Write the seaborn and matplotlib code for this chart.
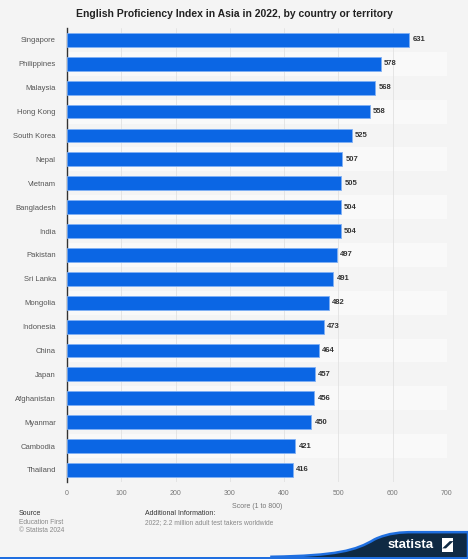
import matplotlib
matplotlib.use("Agg")
import matplotlib.pyplot as plt
import seaborn as sns
import pandas as pd
from matplotlib.patches import PathPatch, Rectangle, Polygon
from matplotlib.path import Path

# data
countries = ["Singapore", "Philippines", "Malaysia", "Hong Kong", "South Korea",
             "Nepal", "Vietnam", "Bangladesh", "India", "Pakistan", "Sri Lanka",
             "Mongolia", "Indonesia", "China", "Japan", "Afghanistan", "Myanmar",
             "Cambodia", "Thailand"]
scores = [631, 578, 568, 558, 525, 507, 505, 504, 504, 497, 491, 482, 473,
          464, 457, 456, 450, 421, 416]
x_ticks = [0, 100, 200, 300, 400, 500, 600, 700]

df = pd.DataFrame({"country": countries, "score": scores})

sns.set_theme(style="white")
plt.rcParams["font.family"] = ["Liberation Sans", "DejaVu Sans"]

bg = "#f4f4f4"
fig = plt.figure(figsize=(4.68, 5.59), dpi=100, facecolor=bg)
ax = fig.add_axes([0.143, 0.138, 0.812, 0.812])
ax.set_facecolor(bg)

# alternating row bands
for i in range(len(countries)):
    if i % 2 == 1:
        ax.axhspan(i - 0.5, i + 0.5, color="#f9f9f9", zorder=0, lw=0)

sns.barplot(data=df, x="score", y="country", ax=ax, color="#0b66e4",
            width=0.58, edgecolor="#7fb0f5", linewidth=0.6, saturation=1, zorder=3)

for i, v in enumerate(scores):
    ax.text(v + 6, i, str(v), va="center", ha="left", fontsize=5.5,
            fontweight="bold", color="#333333")

ax.set_xlim(0, 700)
ax.set_ylim(len(countries) - 0.5, -0.5)
ax.set_xticks(x_ticks)
ax.set_xticklabels([str(t) for t in x_ticks], fontsize=5, color="#777777")
ax.tick_params(axis="y", labelsize=5.5, labelcolor="#555555", length=0, pad=8)
ax.tick_params(axis="x", length=0, pad=6)
ax.grid(axis="x", color="#e2e2e2", linestyle="-", linewidth=0.6, zorder=1)
ax.set_axisbelow(True)
for s in ["top", "right", "bottom"]:
    ax.spines[s].set_visible(False)
ax.spines["left"].set_color("#333333")
ax.spines["left"].set_linewidth(1.0)
ax.set_ylabel("")
ax.set_xlabel("Score (1 to 800)", fontsize=5, color="#777777", labelpad=4)

fig.text(0.5, 0.975, "English Proficiency Index in Asia in 2022, by country or territory",
         ha="center", va="center", fontsize=7.5, fontweight="bold", color="#222222")

fig.text(0.04, 0.078, "Source", fontsize=5, color="#333333")
fig.text(0.04, 0.063, "Education First", fontsize=4.8, color="#888888")
fig.text(0.04, 0.048, "© Statista 2024", fontsize=4.8, color="#888888")
fig.text(0.31, 0.078, "Additional Information:", fontsize=5, color="#333333")
fig.text(0.31, 0.063, "2022; 2.2 million adult test takers worldwide", fontsize=4.8,
         color="#888888")

# statista badge bottom right
verts = [(0.58, 0.004), (0.72, 0.006), (0.76, 0.015), (0.80, 0.035),
         (0.83, 0.047), (0.86, 0.048), (0.88, 0.048),
         (1.0, 0.048), (1.0, 0.0), (0.58, 0.0), (0.58, 0.004)]
codes = [Path.MOVETO, Path.CURVE4, Path.CURVE4, Path.CURVE4,
         Path.CURVE4, Path.CURVE4, Path.CURVE4,
         Path.LINETO, Path.LINETO, Path.LINETO, Path.CLOSEPOLY]
fig.patches.append(PathPatch(Path(verts, codes), transform=fig.transFigure,
                             facecolor="#0f2a44", edgecolor="#1f6fe0",
                             linewidth=1.8, zorder=5))
fig.patches.append(Rectangle((0, 0), 1, 0.004, transform=fig.transFigure,
                             facecolor="#1f6fe0", edgecolor="none", zorder=6))
fig.text(0.878, 0.025, "statista", ha="center", va="center", fontsize=9.5,
         color="white", fontweight="bold", zorder=7)
fig.patches.append(Rectangle((0.945, 0.013), 0.024, 0.025, transform=fig.transFigure,
                             facecolor="white", edgecolor="none", zorder=7))
fig.patches.append(Polygon([(0.945, 0.019), (0.961, 0.032), (0.969, 0.032),
                            (0.953, 0.019)], closed=True, transform=fig.transFigure,
                           facecolor="#0f2a44", edgecolor="none", zorder=8))

fig.savefig("out.png", dpi=100, facecolor=bg)
